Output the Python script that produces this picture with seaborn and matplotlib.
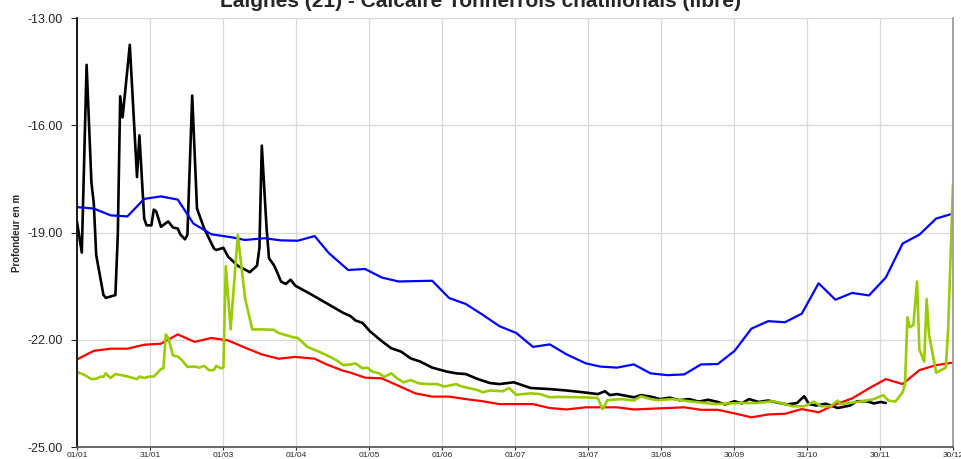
import pandas as pd
import matplotlib.pyplot as plt
import seaborn as sns

sns.set_theme(style="white")
plt.rcParams["font.family"] = ["Liberation Sans", "DejaVu Sans"]

# Tick labels (dates) and depth ticks
date_labels = ["01/01", "31/01", "01/03", "01/04", "01/05", "01/06", "01/07",
               "31/07", "31/08", "30/09", "31/10", "30/11", "30/12"]
depth_ticks = [-25.0, -22.0, -19.0, -16.0, -13.0]

# Black series (daily levels, current year)
black_day = [0, 2, 4, 6, 7, 8, 11, 12, 16, 17, 18, 19, 22, 25, 26, 28, 29, 31, 32, 33,
             35, 38, 40, 42, 43, 45, 46, 48, 50, 53, 57, 58, 61, 63, 67, 72, 75, 76, 77, 79,
             80, 82, 83, 85, 87, 89, 91, 97, 104, 111, 114, 116, 119, 122, 127, 131, 135, 139,
             143, 148, 154, 158, 162, 167, 172, 176, 182, 189, 197, 204, 211, 217, 220, 222,
             225, 232, 235, 239, 243, 247, 251, 255, 259, 263, 267, 270, 274, 277, 280, 284,
             288, 292, 296, 300, 303, 305, 308, 312, 317, 322, 325, 329, 332, 335, 337]
black_val = [-18.70, -19.56, -14.31, -17.59, -18.19, -19.63, -20.74, -20.83, -20.75, -19.07,
             -15.19, -15.78, -13.75, -17.45, -16.28, -18.61, -18.80, -18.80, -18.36, -18.41,
             -18.84, -18.69, -18.86, -18.89, -19.05, -19.19, -19.07, -15.17, -18.33, -18.89,
             -19.44, -19.49, -19.43, -19.68, -19.93, -20.11, -19.93, -19.44, -16.57, -18.89,
             -19.72, -19.91, -20.05, -20.37, -20.44, -20.32, -20.49, -20.71, -20.98, -21.25,
             -21.34, -21.46, -21.53, -21.76, -22.04, -22.24, -22.33, -22.52, -22.61, -22.78,
             -22.89, -22.94, -22.96, -23.10, -23.21, -23.24, -23.19, -23.35, -23.38, -23.42,
             -23.47, -23.52, -23.44, -23.55, -23.52, -23.61, -23.55, -23.59, -23.66, -23.62,
             -23.69, -23.66, -23.73, -23.68, -23.74, -23.81, -23.72, -23.78, -23.66, -23.74,
             -23.70, -23.76, -23.81, -23.77, -23.58, -23.80, -23.84, -23.79, -23.91, -23.84,
             -23.72, -23.72, -23.78, -23.74, -23.77]

# Blue series (weekly)
blue_day = [0, 7, 14, 21, 28, 35, 42, 48.5, 56, 65, 70, 78, 85, 92, 99, 105, 113, 120, 127,
            134, 148, 155, 162, 169, 176, 183, 190, 197, 204, 212, 218, 225, 232, 239, 246,
            253, 260, 267, 274, 281, 288, 295, 302, 309, 316, 323, 330, 337, 344, 351, 358, 365]
blue_val = [-18.29, -18.33, -18.52, -18.55, -18.06, -17.99, -18.08, -18.75, -19.05, -19.14,
            -19.21, -19.16, -19.22, -19.23, -19.10, -19.58, -20.05, -20.02, -20.26, -20.37,
            -20.35, -20.83, -21.00, -21.30, -21.62, -21.81, -22.20, -22.13, -22.41, -22.66,
            -22.75, -22.78, -22.69, -22.94, -22.99, -22.97, -22.69, -22.68, -22.31, -21.69,
            -21.48, -21.51, -21.27, -20.42, -20.88, -20.69, -20.76, -20.26, -19.31, -19.06,
            -18.61, -18.47]

# Red series (weekly)
red_day = [0, 7, 14, 21, 28, 35, 42, 49, 56, 63, 70, 77, 84, 91, 99, 104, 111, 114, 120,
           127, 134, 141, 148, 155, 162, 169, 176, 183, 190, 197, 204, 212, 218, 225, 232,
           239, 246, 253, 260, 267, 274, 281, 288, 295, 302, 309, 316, 323, 330, 337, 344,
           351, 358, 365]
red_val = [-22.55, -22.31, -22.25, -22.25, -22.14, -22.11, -21.85, -22.06, -21.95, -22.02,
           -22.22, -22.41, -22.53, -22.48, -22.53, -22.69, -22.87, -22.92, -23.06, -23.08,
           -23.29, -23.50, -23.59, -23.59, -23.66, -23.72, -23.80, -23.80, -23.80, -23.91,
           -23.95, -23.89, -23.89, -23.89, -23.95, -23.93, -23.91, -23.89, -23.96, -23.96,
           -24.06, -24.17, -24.09, -24.07, -23.94, -24.03, -23.81, -23.64, -23.36, -23.10,
           -23.24, -22.85, -22.71, -22.64]

# Green series
green_day = [0, 3, 6, 8, 10, 11, 12, 14, 16, 20, 25, 26, 28, 30, 32, 35, 36, 37, 38, 40,
             42, 44, 46, 49, 51, 53, 55, 57, 58, 60, 61, 62, 64, 67, 70, 73, 76, 82, 84, 90,
             92, 96, 100, 104, 108, 111, 114, 116, 119, 121, 123, 126, 128, 131, 133, 136,
             139, 142.5, 146, 150, 153, 158, 160, 167, 169, 172, 177.5, 180, 183, 189, 193,
             197, 200, 211, 217, 219, 221, 227, 232, 235, 239, 242, 248, 255, 259, 266, 276,
             283, 290, 294, 298, 303, 307, 310, 314, 317, 318, 323, 329, 332, 336, 338, 341,
             344, 345, 346, 347, 348.5, 350, 351, 353, 354, 355, 358, 362, 363, 365]
green_val = [-22.90, -22.98, -23.10, -23.09, -23.03, -23.04, -22.94, -23.07, -22.96, -23.01,
             -23.10, -23.03, -23.07, -23.03, -23.03, -22.82, -22.80, -21.85, -21.94, -22.44,
             -22.47, -22.59, -22.76, -22.75, -22.78, -22.73, -22.85, -22.85, -22.73, -22.80,
             -22.78, -19.94, -21.71, -19.07, -20.83, -21.71, -21.71, -21.72, -21.81, -21.93,
             -21.95, -22.20, -22.31, -22.43, -22.57, -22.71, -22.69, -22.66, -22.80, -22.78,
             -22.89, -22.94, -23.04, -22.94, -23.06, -23.19, -23.13, -23.22, -23.24, -23.24,
             -23.31, -23.24, -23.30, -23.41, -23.47, -23.42, -23.44, -23.35, -23.54, -23.50,
             -23.52, -23.61, -23.60, -23.61, -23.63, -23.94, -23.69, -23.66, -23.70, -23.58,
             -23.66, -23.69, -23.66, -23.72, -23.75, -23.80, -23.77, -23.77, -23.72, -23.78,
             -23.86, -23.86, -23.73, -23.86, -23.86, -23.70, -23.80, -23.76, -23.70, -23.66,
             -23.55, -23.70, -23.73, -23.47, -23.24, -21.37, -21.65, -21.59, -20.37, -22.27,
             -22.61, -20.86, -21.85, -22.92, -22.78, -21.67, -17.65]

series = [
    (black_day, black_val, "#000000", 1.9),
    (blue_day, blue_val, "#0000FF", 1.6),
    (red_day, red_val, "#FF0000", 1.6),
    (green_day, green_val, "#99CC00", 1.9),
]

fig = plt.figure(figsize=(9.61, 4.59), dpi=100)
ax = fig.add_axes([77 / 961, 1 - 447 / 459, (953 - 77) / 961, (447 - 18) / 459])

for days, vals, color, lw in series:
    df = pd.DataFrame({"jour": days, "profondeur": vals})
    sns.lineplot(data=df, x="jour", y="profondeur", ax=ax, color=color,
                 linewidth=lw, estimator=None, sort=False)

ax.set_xlim(0, 365)
ax.set_ylim(-25, -13)
ax.set_xticks([i * 365 / 12 for i in range(13)])
ax.set_xticklabels(date_labels, fontsize=6)
ax.set_yticks(depth_ticks)
ax.set_yticklabels([f"{v:.2f}" for v in depth_ticks], fontsize=9)
ax.grid(True, color="#d9d9d9", linewidth=0.9)
ax.set_axisbelow(True)

ax.spines["top"].set_visible(False)
ax.spines["left"].set_color("#000000")
ax.spines["bottom"].set_color("#555555")
ax.spines["right"].set_color("#999999")
ax.tick_params(axis="x", length=2.5, width=0.8, direction="out", bottom=True, pad=1)
ax.tick_params(axis="y", length=4.3, width=0.8, direction="out", left=True, pad=5.8)

ax.set_xlabel("")
ax.set_ylabel("Profondeur en m", fontsize=7, fontweight="bold", labelpad=4)

fig.text(0.5, 1 - 7 / 459, "Laignes (21) - Calcaire Tonnerrois châtillonais (libre)",
         ha="center", va="baseline", fontsize=15, fontweight="bold")

fig.savefig("out.png", dpi=100)
